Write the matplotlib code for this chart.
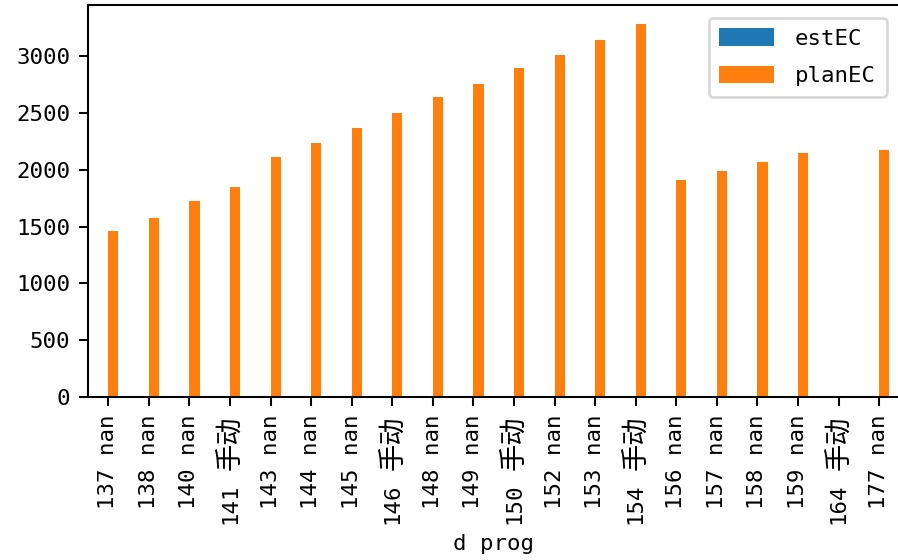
import numpy as np
import matplotlib
matplotlib.use("Agg")
import matplotlib.pyplot as plt

plt.rcParams['font.family'] = ['DejaVu Sans Mono', 'Noto Sans CJK SC']

d_vals = [137, 138, 140, 141, 143, 144, 145, 146, 148, 149, 150, 152, 153, 154, 156, 157, 158, 159, 164, 177]
prog_vals = ['nan', 'nan', 'nan', '手动', 'nan', 'nan', 'nan', '手动', 'nan', 'nan', '手动', 'nan', 'nan', '手动',
             'nan', 'nan', 'nan', 'nan', '手动', 'nan']
estEC = [np.nan] * 20
planEC = [1462, 1577, 1727, 1850, 2115, 2238, 2371, 2503, 2644, 2759, 2900, 3015, 3147, 3289,
          1912, 1991, 2071, 2151, np.nan, 2177]
series_names = ['estEC', 'planEC']
xlabel_text = 'd prog'

DPI = 185
fig = plt.figure(figsize=(898 / DPI, 560 / DPI), dpi=DPI)
ax = fig.add_axes([88 / 898, 1 - 396.7 / 560, (899.5 - 88) / 898, (396.7 - 5) / 560])

FS = 8.7
CJK_FS = 10.6
x = np.arange(len(d_vals))
w = 0.25
ax.bar(x - w / 2, estEC, w, color='#1f77b4', label=series_names[0])
ax.bar(x + w / 2, planEC, w, color='#ff7f0e', label=series_names[1])
ax.set_xlim(-0.5, len(d_vals) - 0.5)

# tick labels: latin part as tick text, CJK part drawn larger next to the axis
labels = [f"{d} {p}" if p == 'nan' else f"{d}" for d, p in zip(d_vals, prog_vals)]
ax.set_xticks(x)
ax.set_xticklabels(labels, rotation=90, fontsize=FS)
ax.tick_params(axis='y', labelsize=FS)

cjk_offset = 7.3
space_pt = 0.602 * FS
for tick, p in zip(ax.xaxis.get_major_ticks(), prog_vals):
    if p != 'nan':
        tick.set_pad(cjk_offset + 2 * CJK_FS + space_pt - 3.5)

for xi, p in zip(x, prog_vals):
    if p != 'nan':
        ax.annotate(p, xy=(xi, 0), xycoords=('data', 'axes fraction'),
                    xytext=(0, -cjk_offset), textcoords='offset points',
                    rotation=90, ha='center', va='top', fontsize=CJK_FS,
                    family='Noto Sans CJK SC', annotation_clip=False)

ax.set_xlabel(xlabel_text, fontsize=FS)

ax.legend(loc='upper right', fontsize=FS, handlelength=2.45, handleheight=0.82,
          handletextpad=0.93, labelspacing=0.75, borderpad=0.47, borderaxespad=0.58)

fig.savefig('out.png', dpi=DPI)
